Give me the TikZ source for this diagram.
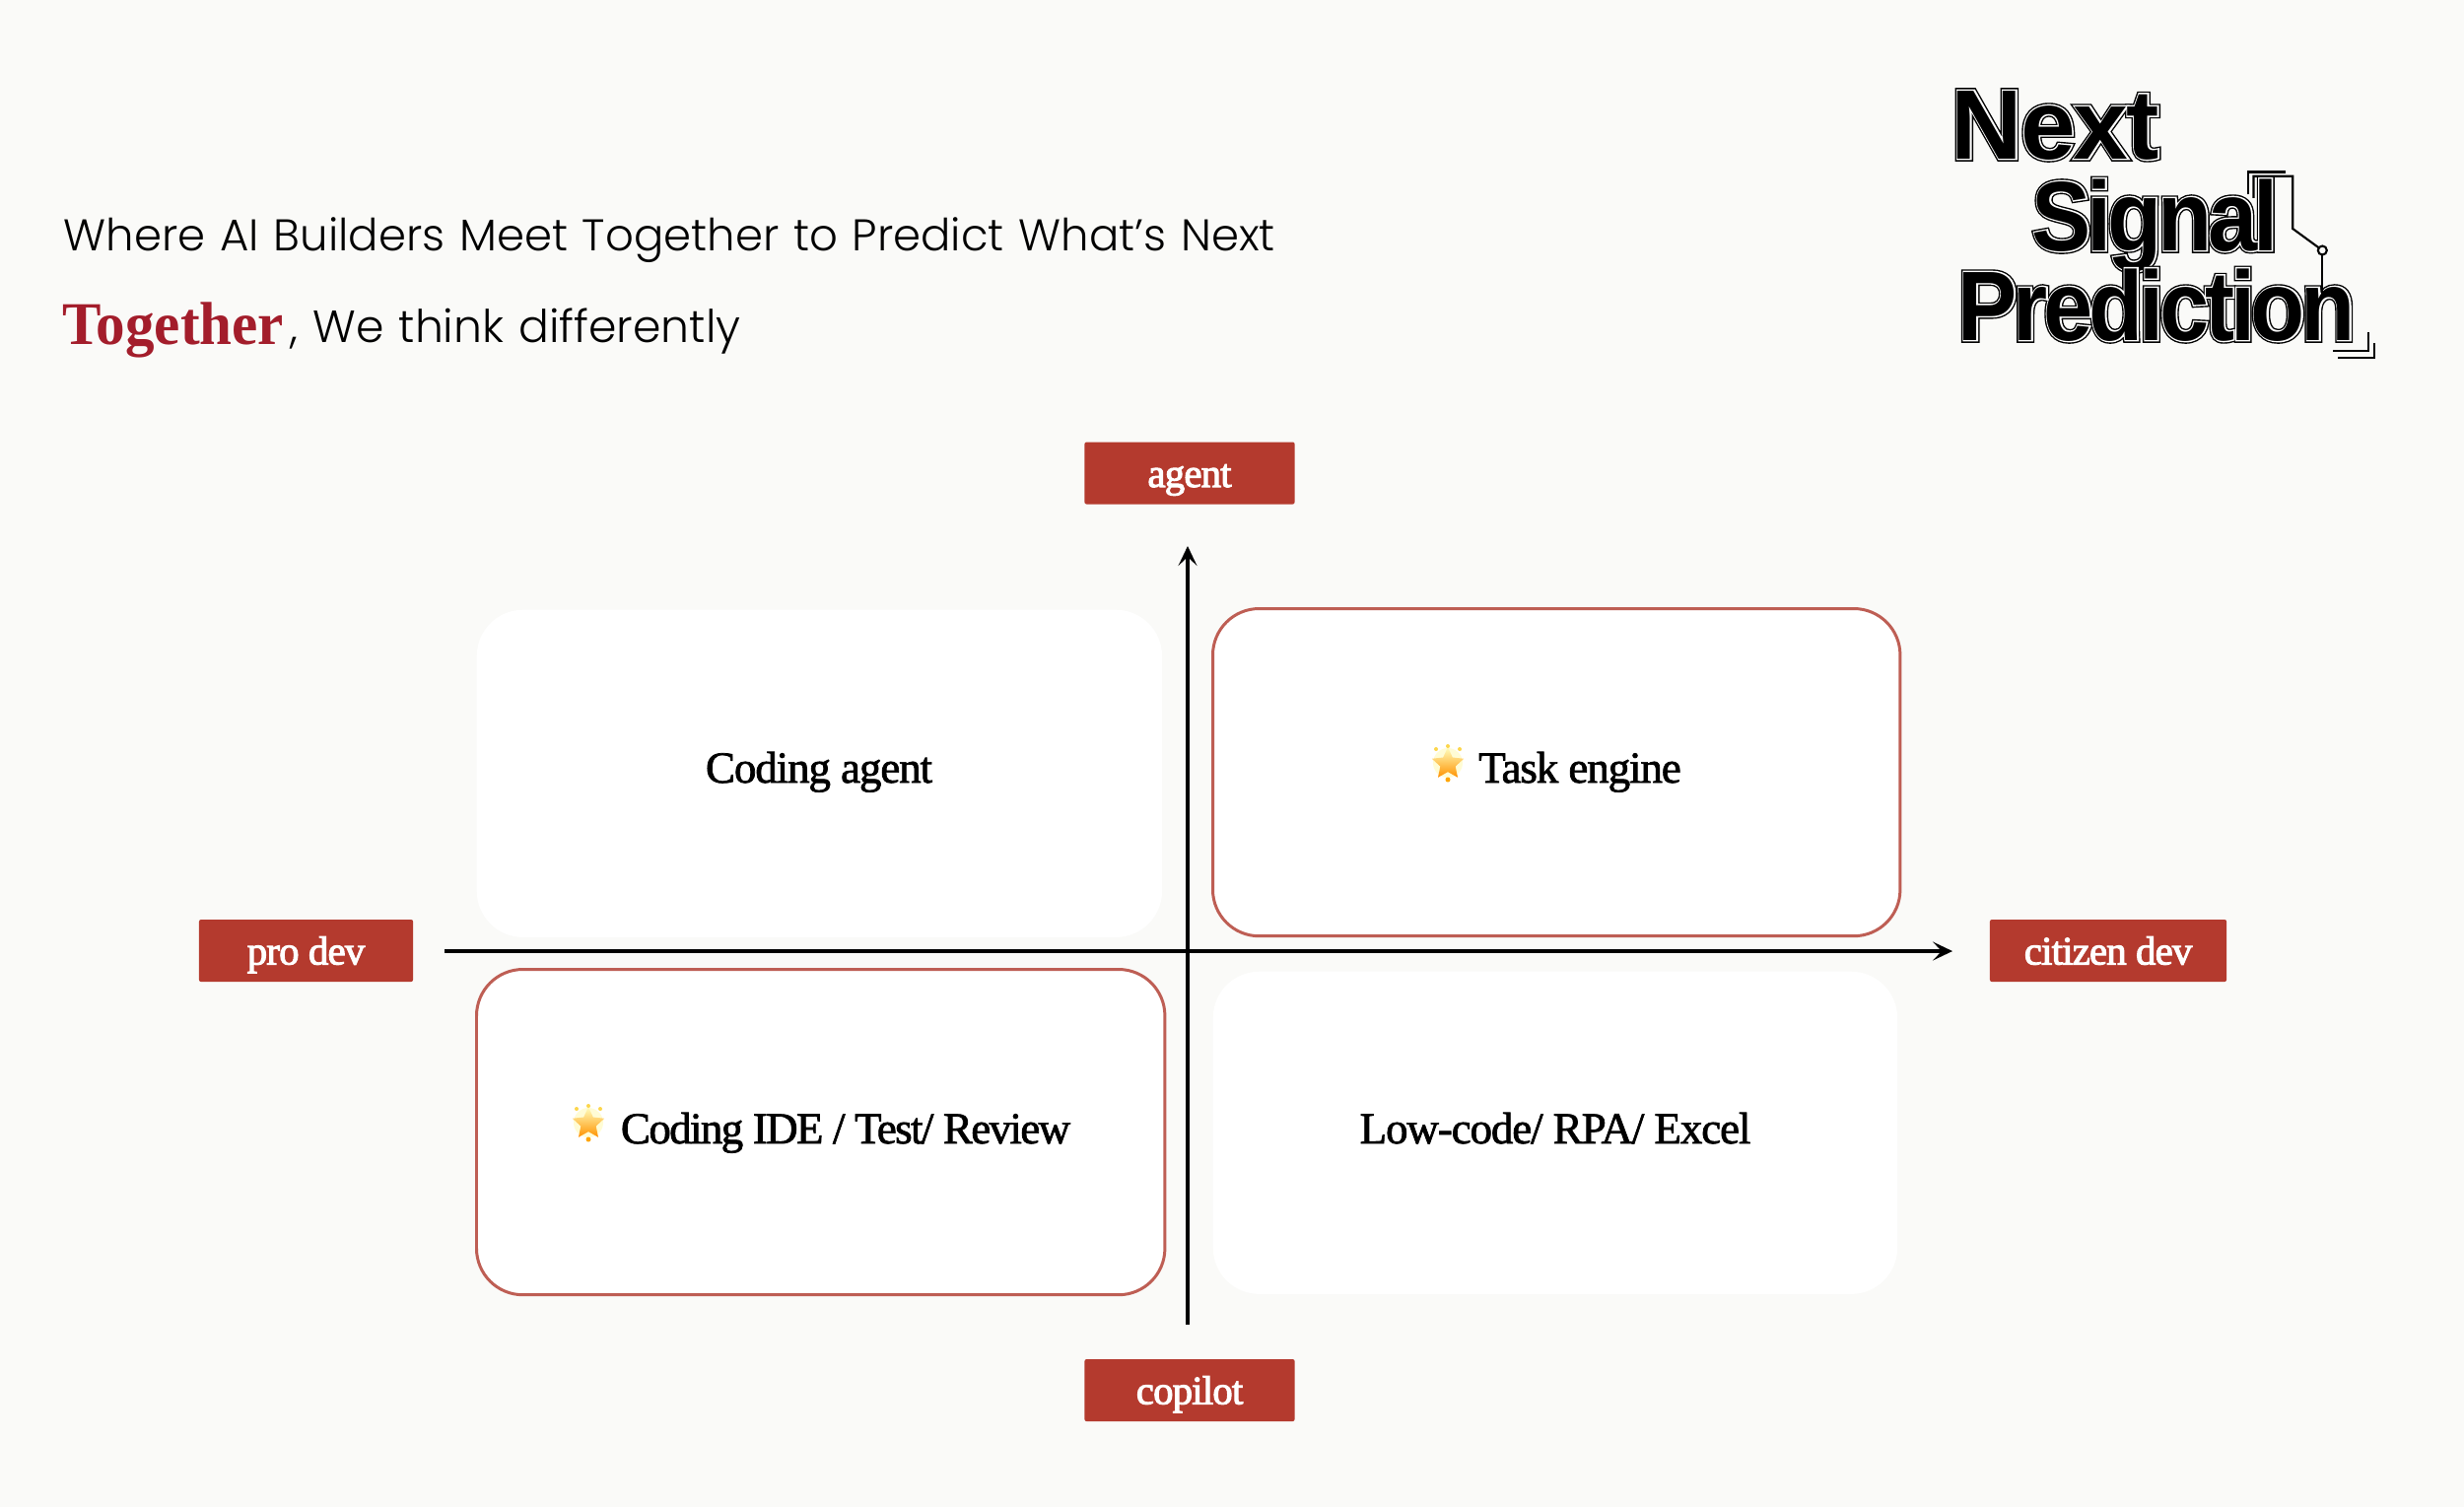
\documentclass[tikz,border=0pt]{standalone}
\usepackage{fontspec}
\usetikzlibrary{arrows.meta,shapes.geometric}
\setmainfont{Liberation Serif}
\newfontfamily\cardfont[FakeBold=1.6,LetterSpace=-2.5]{Liberation Serif}
\newfontfamily\cardtight[FakeBold=1.6,LetterSpace=-3.7]{Liberation Serif}
\newfontfamily\tagfont[FakeBold=2.6,LetterSpace=-2]{Liberation Serif}
\newfontfamily\headfont[UprightFont=* Light,WordSpace=1.2]{Poppins}
\newfontfamily\togfont[FakeStretch=0.96]{Liberation Serif Bold}
\newfontfamily\logoA[FakeStretch=0.9,LetterSpace=-4.2,FakeBold=5.6]{Liberation Sans Bold}
\newfontfamily\logoB[FakeStretch=0.9,LetterSpace=-4.2,FakeBold=2.8]{Liberation Sans Bold}
\newfontfamily\logoC[FakeStretch=0.9,LetterSpace=-4.2]{Liberation Sans Bold}
\newfontfamily\logoNA[LetterSpace=-2,FakeBold=5.6]{Liberation Sans Bold}
\newfontfamily\logoNB[LetterSpace=-2,FakeBold=2.8]{Liberation Sans Bold}
\newfontfamily\logoNC[LetterSpace=-2]{Liberation Sans Bold}
\definecolor{paper}{HTML}{FAFAF8}
\definecolor{tagred}{HTML}{B43A2E}
\definecolor{edge}{HTML}{BE5E54}
\definecolor{togred}{HTML}{A31D2B}
\tikzset{
 x=0.01cm,y=-0.01cm,
 card/.style={fill=white,rounded corners=0.47cm,inner sep=0pt,anchor=north west},
 cardline/.style={draw=edge,line width=0.85pt},
 tagbox/.style={fill=tagred,text=white,inner sep=0pt,rounded corners=0.2mm,minimum height=0.63cm,text height=0.31cm,text depth=0.03cm,font=\tagfont\fontsize{11.6}{13}\selectfont},
 axis/.style={draw=black,line width=1pt,-{Stealth[length=2mm,width=1.9mm,inset=0.9mm]}},
 cardlabel/.style={inner sep=0pt,anchor=base,font=\cardfont\fontsize{12.8}{15}\selectfont},
 headtext/.style={inner sep=0pt,anchor=base west,font=\headfont\fontsize{13}{15}\selectfont},
 logoline/.style={line width=0.6pt,draw=black},
 logoword/.style={inner sep=0pt,anchor=base west},
}
\newcommand{\logoword}[7]{%
 \node[logoword,text=black,font=#5\fontsize{28.5}{30}\selectfont] (#1a) at (#2,#3) {#4};
 \node[logoword,text=white,font=#6\fontsize{28.5}{30}\selectfont] (#1b) at (#2,#3) {#4};
 \node[logoword,text=black,font=#7\fontsize{28.5}{30}\selectfont] (#1c) at (#2,#3) {#4};}
\newcommand{\glowstar}[2]{%
 \begin{scope}[shift={(#1,#2)}]
  \fill[yellow!30!white,opacity=.55] (0,0) circle (15);
  \node[star,star points=5,star point ratio=2.1,minimum size=0.34cm,inner sep=0pt,top color=yellow!25!white,bottom color=orange!85!yellow,draw=none] at (0,1) {};
  \fill[orange!70!yellow] (0,17) circle (2.5);
  \fill[yellow!60!orange!70!white] (-12,-14) circle (2) (12,-14) circle (2) (0,-17) circle (2);
 \end{scope}}
\begin{document}
\begin{tikzpicture}
\useasboundingbox (0,0) rectangle (2500,1529);
\fill[paper] (0,0) rectangle (2500,1529);
% cards
\node[card,minimum width=6.95cm,minimum height=3.32cm] (tl) at (483,618) {};
\node[card,cardline,minimum width=6.97cm,minimum height=3.32cm] (tr) at (1229,616) {};
\node[card,cardline,minimum width=6.98cm,minimum height=3.30cm] (bl) at (482,982) {};
\node[card,minimum width=6.94cm,minimum height=3.27cm] (br) at (1230,985) {};
% axis end points
\coordinate (xs) at (451,965);
\coordinate (xe) at (1981,965);
\coordinate (ys) at (1205,1344);
\coordinate (ye) at (1205,554);
\draw[axis] (xs) -- (xe);
\draw[axis] (ys) -- (ye);
% tags
\node[tagbox,minimum width=2.13cm] (agent) at (1207,480) {agent};
\node[tagbox,minimum width=2.13cm] (copilot) at (1207,1410.5) {copilot};
\node[tagbox,minimum width=2.17cm] (prodev) at (310.5,964.5) {pro dev};
\node[tagbox,minimum width=2.40cm] (citizen) at (2139,964.5) {citizen dev};
% card labels
\node[cardlabel] (ltl) at (831,794) {Coding agent};
\node[cardlabel] (ltr) at (1603,794) {Task engine};
\node[cardlabel,font=\cardtight\fontsize{12.8}{15}\selectfont] (lbl) at (858,1160) {Coding IDE / Test/ Review};
\node[cardlabel] (lbr) at (1578,1160) {Low-code/ RPA/ Excel};
\glowstar{1469}{774}
\glowstar{597}{1139}
% header
\node[headtext,font=\headfont\fontsize{12.8}{15}\selectfont] (h1) at (64,254) {Where AI Builders Meet Together to Predict What’s Next};
\node[inner sep=0pt,anchor=base west,text=togred,font=\togfont\fontsize{17.5}{20}\selectfont] (h2) at (63,349) {Together};
\node[headtext] (h3) at (294,347) {, We think differently};
% logo
\logoword{next}{1979}{161}{Next}{\logoNA}{\logoNB}{\logoNC}
\logoword{sig}{2061}{254}{Signal}{\logoA}{\logoB}{\logoC}
\logoword{pre}{1986}{345}{Prediction}{\logoA}{\logoB}{\logoC}
\draw[logoline] (2281.3,197.3) |- (2319,174.5);
\coordinate (dot) at (2356.3,254);
\draw[logoline] (2286.5,200.8) |- (2326.2,178.7) -- (2326.2,232) -- (dot);
\draw[logoline] (dot) -- (2356.3,300);
\draw[logoline,fill=paper] (dot) circle (4.5);
\draw[logoline] (2402.6,337) |- (2366.5,356);
\draw[logoline] (2409.3,348) |- (2371.8,363);
\end{tikzpicture}
\end{document}
